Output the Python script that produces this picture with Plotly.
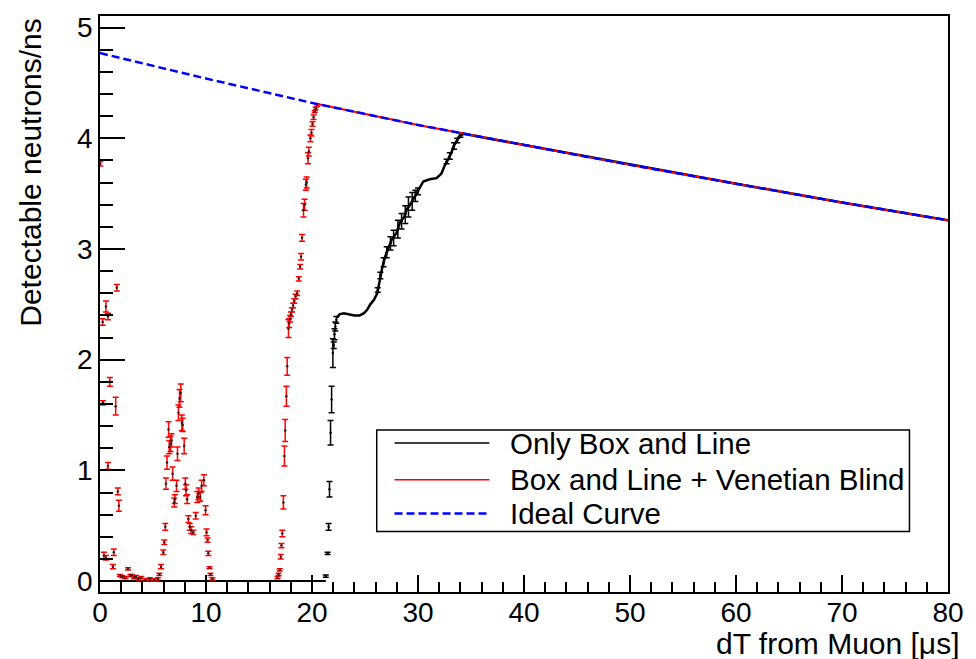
import plotly.graph_objects as go

# ---------------------------------------------------------------------------
# Detectable neutron rate vs. time after a muon
# ---------------------------------------------------------------------------

# Ideal curve (no veto dead time)
ideal_t = [0, 10, 20, 30, 40, 50, 60, 70, 80]
ideal_rate = [4.77, 4.54, 4.32, 4.12, 3.94, 3.76, 3.59, 3.42, 3.26]

# Box and Line + Venetian Blind: individual bins with errors (early times)
red_t = [0.03, 0.25, 0.56, 0.75, 1.59, 0.93, 0.28, 1.48, 0.75, 1.68, 1.78,
         0.37, 0.56, 1.30, 1.22, 1.87,
         2.10, 2.40, 2.64, 2.87, 3.00, 3.20, 3.40, 3.60, 3.90, 4.30, 4.70, 5.10,
         5.45, 5.60, 5.76, 5.97, 6.07, 6.16, 6.22, 6.32, 6.47, 6.53, 6.66, 6.75,
         6.85, 7.00, 7.06, 7.22, 7.31, 7.40, 7.50, 7.62, 7.72, 7.80, 7.94, 8.05,
         8.12, 8.22, 8.34, 8.47, 8.60, 8.80, 9.03, 9.18, 9.30, 9.46, 9.59, 9.80,
         9.96, 10.05, 10.15, 10.22, 10.33, 10.42, 10.60,
         16.75, 16.85, 16.95, 17.05, 17.12, 17.20, 17.30, 17.40, 17.47, 17.58,
         17.66, 17.78, 17.85, 17.93, 18.02, 18.12, 18.22, 18.33, 18.45, 18.60,
         18.75, 18.88, 18.97, 19.06, 19.20, 19.30, 19.42, 19.50, 19.62, 19.70,
         19.85, 19.95, 20.05, 20.15, 20.25, 20.35, 20.48]
red_rate = [3.77, 2.34, 2.48, 2.39, 2.65, 1.80, 1.61, 1.58, 1.04, 0.81, 0.68,
            0.23, 0.21, 0.26, 0.13, 0.05,
            0.04, 0.03, 0.11, 0.05, 0.05, 0.03, 0.04, 0.02, 0.03, 0.01, 0.02, 0.01,
            0.02, 0.06, 0.13, 0.26, 0.35, 0.49, 0.88, 1.07, 1.37, 1.21, 1.24, 1.27,
            0.97, 0.71, 0.74, 0.86, 1.15, 1.52, 1.65, 1.70, 1.43, 1.41, 1.22, 0.88,
            0.82, 0.74, 0.56, 0.49, 0.46, 0.44, 0.59, 0.76, 0.79, 0.76, 0.86, 0.91,
            0.64, 0.44, 0.37, 0.25, 0.12, 0.06, 0.02,
            0.03, 0.06, 0.10, 0.22, 0.32, 0.43, 0.71, 1.13, 1.36, 1.67,
            1.94, 2.28, 2.33, 2.37, 2.41, 2.45, 2.49, 2.53, 2.57, 2.60,
            2.73, 2.84, 2.93, 3.10, 3.35, 3.40, 3.58, 3.60, 3.82, 3.88,
            4.00, 4.05, 4.13, 4.19, 4.24, 4.27, 4.30]
red_err = [0.02, 0.03, 0.05, 0.03, 0.03, 0.04, 0.02, 0.08, 0.03, 0.03, 0.05,
           0.03, 0.02, 0.03, 0.02, 0.01,
           0.01, 0.01, 0.01, 0.01, 0.01, 0.01, 0.01, 0.01, 0.01, 0.01, 0.01, 0.01,
           0.01, 0.01, 0.02, 0.02, 0.02, 0.03, 0.05, 0.06, 0.07, 0.06, 0.07, 0.06,
           0.06, 0.04, 0.04, 0.05, 0.06, 0.07, 0.08, 0.08, 0.07, 0.06, 0.07, 0.05,
           0.05, 0.04, 0.03, 0.03, 0.03, 0.02, 0.03, 0.05, 0.05, 0.04, 0.05, 0.05,
           0.04, 0.03, 0.02, 0.02, 0.01, 0.01, 0.01,
           0.01, 0.01, 0.01, 0.02, 0.02, 0.03, 0.06, 0.09, 0.10, 0.09,
           0.08, 0.08, 0.04, 0.03, 0.02, 0.02, 0.02, 0.02, 0.02, 0.02,
           0.02, 0.02, 0.03, 0.03, 0.06, 0.05, 0.05, 0.05, 0.05, 0.04,
           0.03, 0.03, 0.02, 0.02, 0.01, 0.01, 0.01]

# Box and Line + Venetian Blind: fully efficient part, on the ideal curve
red_tail_t = [20.5, 30, 40, 50, 60, 70, 80]
red_tail_rate = [4.31, 4.12, 3.94, 3.76, 3.59, 3.42, 3.26]

# Only Box and Line: dead until ~21 us
black_zero_t = [0.0, 21.3]
black_zero_rate = [0.0, 0.0]

# Only Box and Line: recovery and tail
black_t = [22.35, 22.6, 23.0, 23.5, 24.0, 24.5, 24.9, 25.2, 25.5, 25.85,
           26.15, 26.3, 26.45, 26.6, 26.9, 27.2, 27.5, 28.0, 28.3, 28.7,
           28.95, 29.25, 29.6, 29.9, 30.2, 30.5, 31.1, 31.75, 32.2, 32.5,
           32.84, 33.15, 33.36, 33.6, 33.9, 34.3, 40, 50, 60, 70, 80]
black_rate = [2.38, 2.41, 2.42, 2.41, 2.40, 2.40, 2.42, 2.45, 2.50, 2.54,
              2.60, 2.67, 2.75, 2.82, 2.93, 3.00, 3.08, 3.15, 3.24, 3.29,
              3.36, 3.40, 3.46, 3.51, 3.57, 3.61, 3.63, 3.64, 3.68, 3.75,
              3.81, 3.87, 3.93, 3.97, 4.02, 4.04, 3.94, 3.76, 3.59, 3.42, 3.26]

# Only Box and Line: bins with visible error bars
black_pt_t = [21.30, 21.47, 21.57, 21.65, 21.75, 21.85, 21.97, 22.05, 22.12,
              22.20, 22.30, 26.20, 26.45, 26.75, 27.05, 27.40, 27.70, 28.10,
              28.45, 28.80, 29.10, 29.45, 29.75, 30.00, 32.70, 33.00, 33.40,
              33.70, 34.00]
black_pt_rate = [0.045, 0.25, 0.49, 0.83, 1.34, 1.64, 2.06, 2.13, 2.23,
                 2.30, 2.36, 2.63, 2.76, 2.88, 2.97, 3.05, 3.10, 3.18,
                 3.25, 3.31, 3.38, 3.43, 3.48, 3.52, 3.79, 3.84, 3.93,
                 3.98, 4.03]
black_pt_err = [0.01, 0.01, 0.03, 0.07, 0.11, 0.12, 0.13, 0.03, 0.05,
                0.04, 0.03, 0.02, 0.03, 0.04, 0.05, 0.06, 0.07, 0.08,
                0.07, 0.08, 0.09, 0.08, 0.05, 0.03, 0.02, 0.03, 0.03,
                0.02, 0.02]

# Axis ticks
x_ticks = [0, 10, 20, 30, 40, 50, 60, 70, 80]
y_ticks = [0, 1, 2, 3, 4, 5]

legend_labels = ["Only Box and Line", "Box and Line + Venetian Blind", "Ideal Curve"]

FONT = "Liberation Sans, Arial, Helvetica, sans-serif"
RED = "#ff0000"
BLUE = "#0000ff"

fig = go.Figure()

# black histogram (drawn first)
fig.add_trace(go.Scatter(x=black_zero_t, y=black_zero_rate, mode="lines",
                         line=dict(color="black", width=2), showlegend=False))
fig.add_trace(go.Scatter(
    x=black_pt_t, y=black_pt_rate, mode="markers",
    marker=dict(color="black", size=2.5),
    error_y=dict(type="data", array=black_pt_err, color="black",
                 thickness=1.5, width=3),
    showlegend=False))
fig.add_trace(go.Scatter(x=black_t, y=black_rate, mode="lines",
                         line=dict(color="black", width=2.5), showlegend=False))

# red histogram
fig.add_trace(go.Scatter(
    x=red_t, y=red_rate, mode="markers",
    marker=dict(color="#222222", size=2.5),
    error_y=dict(type="data", array=red_err, color=RED,
                 thickness=1.5, width=3),
    showlegend=False))
fig.add_trace(go.Scatter(x=red_tail_t, y=red_tail_rate, mode="lines",
                         line=dict(color=RED, width=2), showlegend=False))

# ideal curve on top
fig.add_trace(go.Scatter(x=ideal_t, y=ideal_rate, mode="lines",
                         line=dict(color=BLUE, width=2.5, dash="8px,4px"),
                         showlegend=False))

# pixel -> paper helpers for the plot frame
x_px0, x_px1 = 100.0, 958.0
y_px0, y_px1 = 12.0, 592.0


def px_x(px):
    return (px - x_px0) / (x_px1 - x_px0)


def px_y(py):
    return (y_px1 - py) / (y_px1 - y_px0)


# Hand-built legend box
shapes = [dict(type="rect", xref="paper", yref="paper",
               x0=px_x(380), x1=px_x(919), y0=px_y(531), y1=px_y(429),
               line=dict(color="black", width=1.5), fillcolor="white",
               layer="above")]
legend_rows = [442, 479, 513]
legend_styles = [dict(color="black", width=1.5),
                 dict(color=RED, width=1.5),
                 dict(color=BLUE, width=2.5, dash="8px,4px")]
annotations = []
for label, row, style in zip(legend_labels, legend_rows, legend_styles):
    shapes.append(dict(type="line", xref="paper", yref="paper",
                       x0=px_x(398), x1=px_x(494), y0=px_y(row), y1=px_y(row),
                       line=style, layer="above"))
    annotations.append(dict(text=label, xref="paper", yref="paper",
                            x=px_x(513), y=px_y(row), xanchor="left",
                            yanchor="middle", showarrow=False,
                            font=dict(family=FONT, size=29.5, color="black")))

# Axis titles
annotations.append(dict(text="dT from Muon [\u03bcs]", xref="paper", yref="paper",
                        x=px_x(971), y=px_y(644), xanchor="right", yanchor="middle",
                        showarrow=False,
                        font=dict(family=FONT, size=30, color="black")))
annotations.append(dict(text="Detectable neutrons/ns", xref="paper", yref="paper",
                        x=px_x(30), y=px_y(169), xanchor="center",
                        yanchor="middle", textangle=-90, showarrow=False,
                        font=dict(family=FONT, size=30, color="black")))

fig.update_layout(
    width=976, height=659,
    margin=dict(l=100, r=18, t=12, b=67),
    paper_bgcolor="white", plot_bgcolor="white",
    font=dict(family=FONT, size=28, color="black"),
    shapes=shapes, annotations=annotations,
    showlegend=False,
)
fig.update_xaxes(
    range=[0, 80], tickvals=x_ticks, ticks="inside", ticklen=17,
    tickwidth=1.5, tickcolor="black", showgrid=False, zeroline=False,
    showline=True, linecolor="black", linewidth=1.5, mirror=True,
    tickfont=dict(family=FONT, size=28, color="black"),
    ticklabelstandoff=-5,
    minor=dict(dtick=2, ticks="inside", ticklen=10, tickwidth=1.5,
               tickcolor="black", showgrid=False),
)
fig.update_yaxes(
    range=[-0.099, 5.105], tickvals=y_ticks, ticks="inside", ticklen=25,
    tickwidth=1.5, tickcolor="black", showgrid=False, zeroline=False,
    showline=True, linecolor="black", linewidth=1.5, mirror=True,
    tickfont=dict(family=FONT, size=28, color="black"),
    minor=dict(dtick=0.2, ticks="inside", ticklen=13, tickwidth=1.5,
               tickcolor="black", showgrid=False),
)

fig.write_html("out.html")
